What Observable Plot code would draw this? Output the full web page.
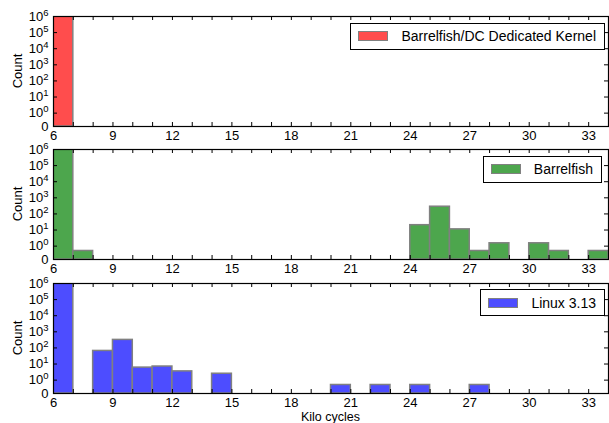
<!DOCTYPE html>
<html><head><meta charset="utf-8">
<script src="https://cdn.jsdelivr.net/npm/d3@7"></script>
<script src="https://cdn.jsdelivr.net/npm/@observablehq/plot@0.6"></script>
<style>
body{margin:0;background:#fff;font-family:"Liberation Sans",Arial,sans-serif;}
#chart{position:relative;width:609px;height:423px;overflow:hidden;background:#fff}
.panel{position:absolute;left:0}
.legend{position:absolute;display:flex;align-items:center;border:1px solid #000;background:#fff;height:27px;padding:0 8px 0 7px;font-size:14px;box-sizing:border-box;color:#000;white-space:nowrap}
.legend .patch{width:30px;height:10px;box-sizing:border-box;border:1px solid #808080;margin-right:13px}
.ylab{position:absolute;font-size:13px;transform:translate(-50%,-50%) rotate(-90deg);white-space:nowrap}
.xlab{position:absolute;font-size:12.5px;line-height:13px;transform:translate(-50%,-50%);white-space:nowrap}
</style></head>
<body><div id="chart"></div>
<script>
// ---- data ----
const seriesNames = ["Barrelfish/DC Dedicated Kernel", "Barrelfish", "Linux 3.13"];
const seriesColors = ["#ff4d4d", "#4da64d", "#4d4dff"];
const dcBinStarts = [6];
const dcCounts = [1e6];
const bfBinStarts = [6, 7, 24, 25, 26, 27, 28, 30, 31, 33];
const bfCounts = [1e6, 0.5, 20, 280, 11, 0.5, 1.5, 1.5, 0.5, 0.5];
const lxBinStarts = [6, 8, 9, 10, 11, 12, 14, 20, 22, 24, 27];
const lxCounts = [1e6, 65, 315, 6, 7, 3.5, 2.5, 0.5, 0.5, 0.5, 0.5];
const binWidth = 1;
const xDomain = [6, 34];
const xTicks = [6, 9, 12, 15, 18, 21, 24, 27, 30, 33];
const xMinorTicks = d3.range(6, 35, 1);
const yFloor = 0.148; // drawn as "0"
const yTicks = [yFloor, 1, 10, 100, 1e3, 1e4, 1e5, 1e6];
const yTickBase = ["0", "10", "10", "10", "10", "10", "10", "10"];
const yTickExp = ["", "0", "1", "2", "3", "4", "5", "6"];
const xLabel = "Kilo cycles";
const yLabel = "Count";

const series = [
  {name: seriesNames[0], color: seriesColors[0], starts: dcBinStarts, counts: dcCounts},
  {name: seriesNames[1], color: seriesColors[1], starts: bfBinStarts, counts: bfCounts},
  {name: seriesNames[2], color: seriesColors[2], starts: lxBinStarts, counts: lxCounts}
];

// ---- layout ----
const W = 609, mL = 53, mR = 1, mT = 16, frameH = 110, mB = 24;
const panelStep = 133.25;
const tickLen = 4;
const chart = document.getElementById("chart");

series.forEach((s, i) => {
  const rows = s.starts.map((x, j) => ({x1: x, x2: x + binWidth, count: s.counts[j]}));
  const yTickPos = yTicks.slice(1, -1);
  const plot = Plot.plot({
    width: W, height: mT + frameH + mB,
    marginLeft: mL, marginRight: mR, marginTop: mT, marginBottom: mB,
    style: {background: "transparent", overflow: "visible", fontFamily: "Liberation Sans, Arial, sans-serif"},
    x: {domain: xDomain, axis: null},
    y: {type: "log", domain: [yFloor, 1e6], axis: null},
    marks: [
      Plot.rectY(rows, {x1: "x1", x2: "x2", y1: () => yFloor, y2: "count", fill: s.color, stroke: "#808080", strokeWidth: 1.5, clip: true}),
      Plot.tickX(xMinorTicks, {x: d => d, insetTop: frameH - tickLen, stroke: "black"}),
      Plot.tickX(xMinorTicks, {x: d => d, insetBottom: frameH - tickLen, stroke: "black"}),
      Plot.tickY(yTickPos, {y: d => d, insetRight: (W - mL - mR) - tickLen, stroke: "black"}),
      Plot.tickY(yTickPos, {y: d => d, insetLeft: (W - mL - mR) - tickLen, stroke: "black"}),
      Plot.axisX({ticks: xTicks, tickSize: 0, tickPadding: 4, fontSize: 13, label: null, tickFormat: d => String(d)}),
      Plot.axisY({ticks: yTicks, tickSize: 0, tickPadding: 5, fontSize: 13, label: null, tickFormat: d => yTickBase[yTicks.indexOf(d)] + "^" + yTickExp[yTicks.indexOf(d)]}),
      Plot.frame({stroke: "black", strokeWidth: 1.2})
    ]
  });
  // render exponents as raised tspans
  plot.querySelectorAll('g[aria-label="y-axis tick label"] text').forEach(t => {
    const [base, exp] = t.textContent.split("^");
    t.textContent = base;
    if (exp) {
      const ts = document.createElementNS("http://www.w3.org/2000/svg", "tspan");
      ts.setAttribute("font-size", "9.5");
      ts.setAttribute("dy", "-5");
      ts.textContent = exp;
      t.appendChild(ts);
    }
  });
  const top = i * panelStep;
  plot.classList.add("panel");
  plot.style.top = top + "px";
  chart.appendChild(plot);

  const lg = document.createElement("div");
  lg.className = "legend";
  lg.style.top = (top + mT + 6.5) + "px";
  lg.style.right = (i === 1 ? 7 : 4) + "px";
  const p = document.createElement("span");
  p.className = "patch";
  p.style.background = s.color;
  lg.appendChild(p);
  lg.appendChild(document.createTextNode(s.name));
  chart.appendChild(lg);

  const yl = document.createElement("div");
  yl.className = "ylab";
  yl.textContent = yLabel;
  yl.style.left = "17px";
  yl.style.top = (top + mT + frameH / 2) + "px";
  chart.appendChild(yl);
});

const xl = document.createElement("div");
xl.className = "xlab";
xl.textContent = xLabel;
xl.style.left = (mL + (W - mL - mR) / 2) + "px";
xl.style.top = "416.5px";
chart.appendChild(xl);
</script>
</body></html>
